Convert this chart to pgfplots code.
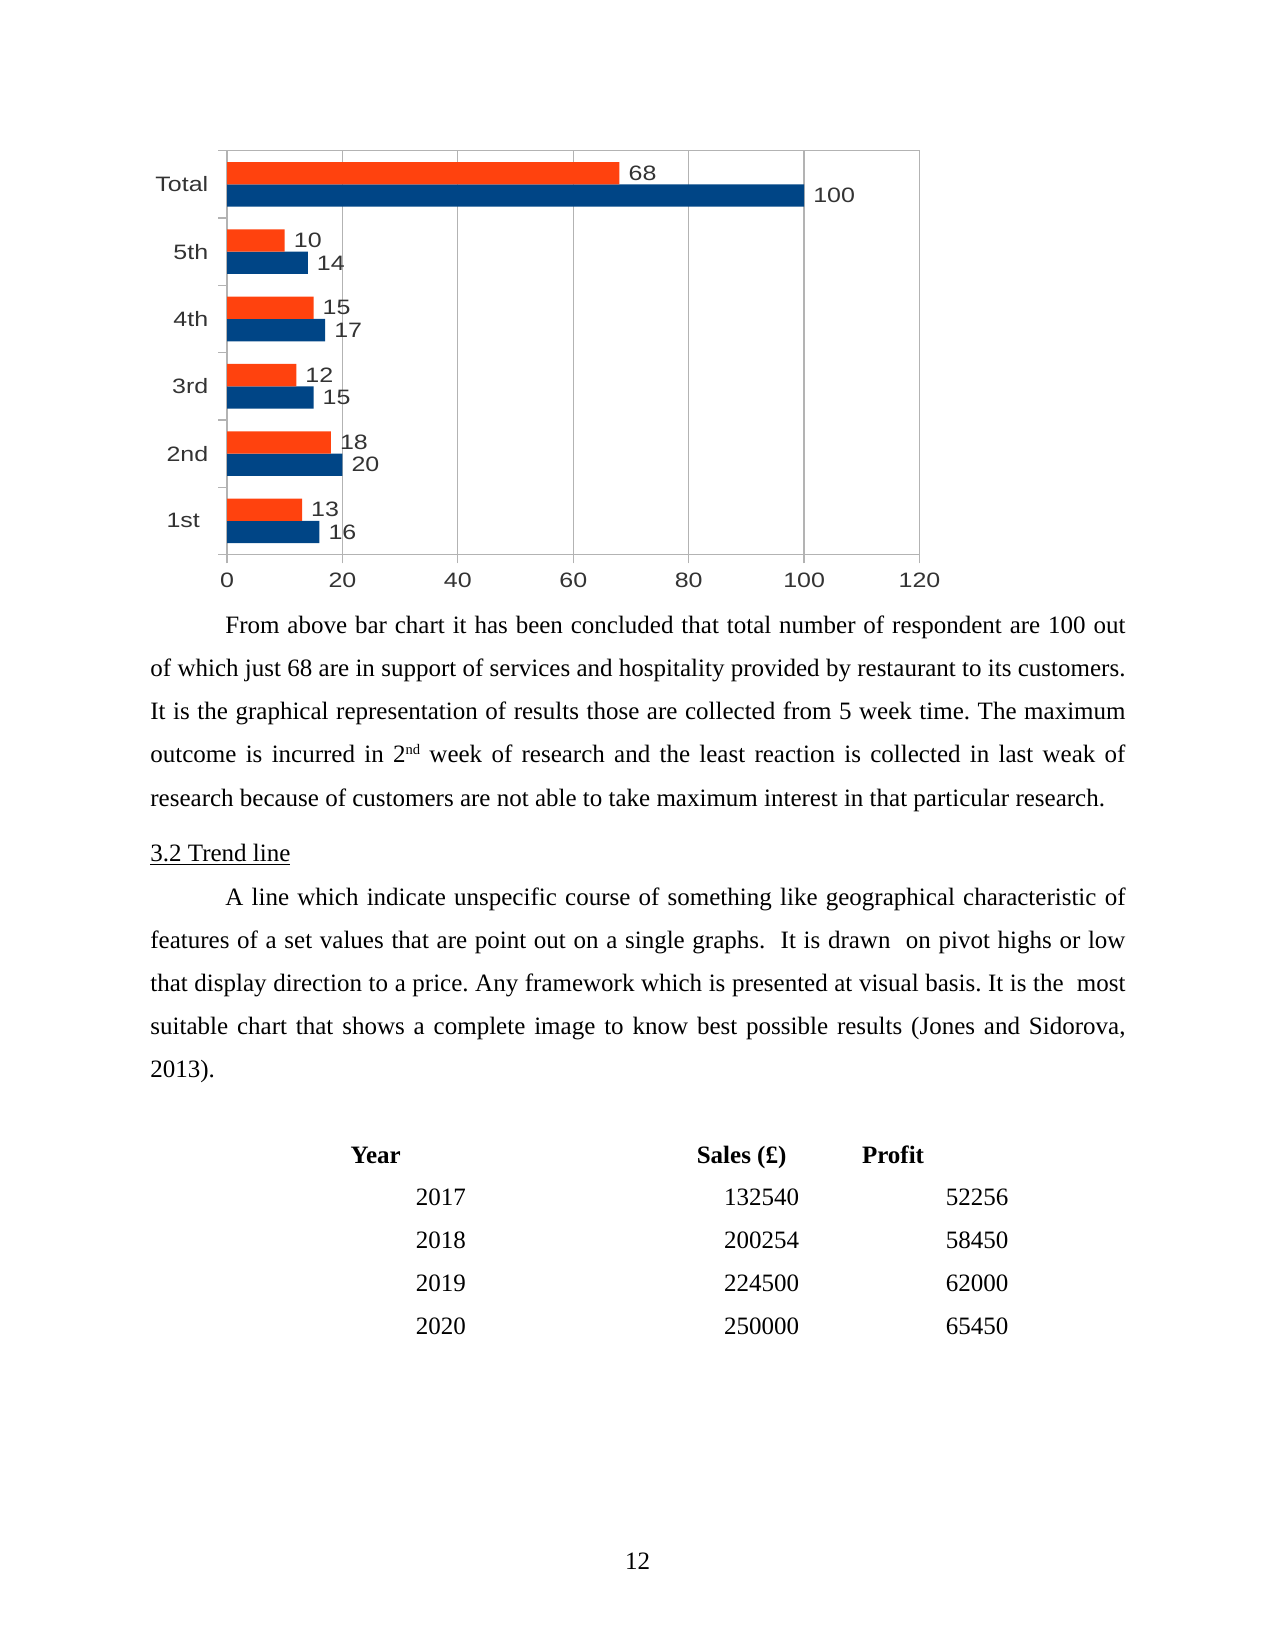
\documentclass[border=0pt]{standalone}
\usepackage{fontspec}
\setmainfont{Liberation Serif}
\newfontfamily\chartfont[FakeStretch=1.2]{Liberation Sans}
\usepackage{pgfplots}
\pgfplotsset{compat=1.18}
\definecolor{sblue}{HTML}{004586}
\definecolor{sorange}{HTML}{FF420E}
\definecolor{gridgray}{HTML}{B3B3B3}
\definecolor{labelgray}{HTML}{333333}

\begin{document}
\frenchspacing
\begin{tikzpicture}
% page in pixel units (1 px = 0.48 bp), y downwards
\begin{scope}[x=0.48bp, y=-0.48bp]
\path[use as bounding box] (0,0) rectangle (1275,1650);
\coordinate (chartorigin) at (227,554.5);

\node[anchor=base west, text width=468bp, align=justify, inner sep=0pt,
      font=\fontsize{12bp}{20.7bp}\selectfont] at (150,633.6) {%
\hspace*{36bp}From above bar chart it has been concluded that total number of respondent are 100 out\linebreak
of which just 68 are in support of services and hospitality provided by restaurant to its customers.\linebreak
It is the graphical representation of results those are collected from 5 week time. The maximum\linebreak
outcome is incurred in 2\raisebox{4.2bp}{\fontsize{7bp}{8bp}\selectfont nd} week of research and the least reaction is collected in last weak of\linebreak
research because of customers are not able to take maximum interest in that particular research.};

\node[anchor=base west, inner sep=0pt, font=\fontsize{12bp}{14bp}\selectfont] at (150,861.1) {\underline{3.2 Trend line}};

\node[anchor=base west, text width=468bp, align=justify, inner sep=0pt,
      font=\fontsize{12bp}{20.7bp}\selectfont] at (150,905.2) {%
\hspace*{36bp}A line which indicate unspecific course of something like geographical characteristic of\linebreak
features of a set values that are point out on a single graphs.\ \ It is drawn\ \ on pivot highs or low\linebreak
that display direction to a price. Any framework which is presented at visual basis. It is the\ \ most\linebreak
suitable chart that shows a complete image to know best possible results (Jones and Sidorova,\linebreak
2013).};

\begin{scope}[every node/.style={inner sep=0pt, font=\fontsize{12bp}{14bp}\selectfont}]
\node[anchor=base west] at (350.3,1163) {\textbf{Year}};
\node[anchor=base west] at (696.4,1163) {\textbf{Sales (£)}};
\node[anchor=base west] at (861.6,1163) {\textbf{Profit}};
\node[anchor=base west] at (415.5,1205) {2017};
\node[anchor=base east] at (799.5,1205) {132540};
\node[anchor=base east] at (1008.9,1205) {52256};
\node[anchor=base west] at (415.5,1248.1) {2018};
\node[anchor=base east] at (799.5,1248.1) {200254};
\node[anchor=base east] at (1008.9,1248.1) {58450};
\node[anchor=base west] at (415.5,1291.2) {2019};
\node[anchor=base east] at (799.5,1291.2) {224500};
\node[anchor=base east] at (1008.9,1291.2) {62000};
\node[anchor=base west] at (415.5,1334.3) {2020};
\node[anchor=base east] at (799.5,1334.3) {250000};
\node[anchor=base east] at (1008.9,1334.3) {65450};
\node[anchor=base] at (637.5,1569) {12};
\end{scope}
\end{scope}

\begin{axis}[
    at={(chartorigin)}, anchor=south west,
    scale only axis,
    width=332.4bp, height=193.8bp,
    xbar, bar width=10.7bp,
    xmin=0, xmax=120, ymin=-0.5, ymax=5.5,
    xtick={0,20,...,120},
    ytick={-0.5,0.5,...,5.5}, yticklabels={},
    extra y ticks={0,1,2,3,4,5},
    extra y tick labels={1st\hspace*{4bp},2nd,3rd,4th,5th,Total},
    extra y tick style={major tick length=0pt},
    xtick pos=lower, ytick pos=left,
    tick align=outside,
    xtick style={draw=gridgray, line width=0.6bp},
    ytick style={draw=gridgray, line width=0.6bp},
    x tick label style={anchor=north, inner sep=0pt, yshift=-4.6bp},
    y tick label style={anchor=east, inner sep=0pt, xshift=-8.8bp},
    tick label style={font=\chartfont\fontsize{10bp}{12bp}\selectfont, text=labelgray},
    /pgf/number format/assume math mode=true,
    xmajorgrids, grid style={draw=gridgray, line width=0.6bp},
    axis line style={draw=gridgray, line width=0.6bp},
    point meta=x,
    nodes near coords,
    every node near coord/.append style={font=\chartfont\fontsize{10bp}{12bp}\selectfont,
        text=labelgray, anchor=west, inner sep=0pt, xshift=4.2bp},
]
\addplot[fill=sblue, draw=none, bar shift=-5.35bp] coordinates {(16,0) (20,1) (15,2) (17,3) (14,4) (100,5)};
\addplot[fill=sorange, draw=none, bar shift=5.35bp] coordinates {(13,0) (18,1) (12,2) (15,3) (10,4) (68,5)};
\end{axis}
\end{tikzpicture}
\end{document}
